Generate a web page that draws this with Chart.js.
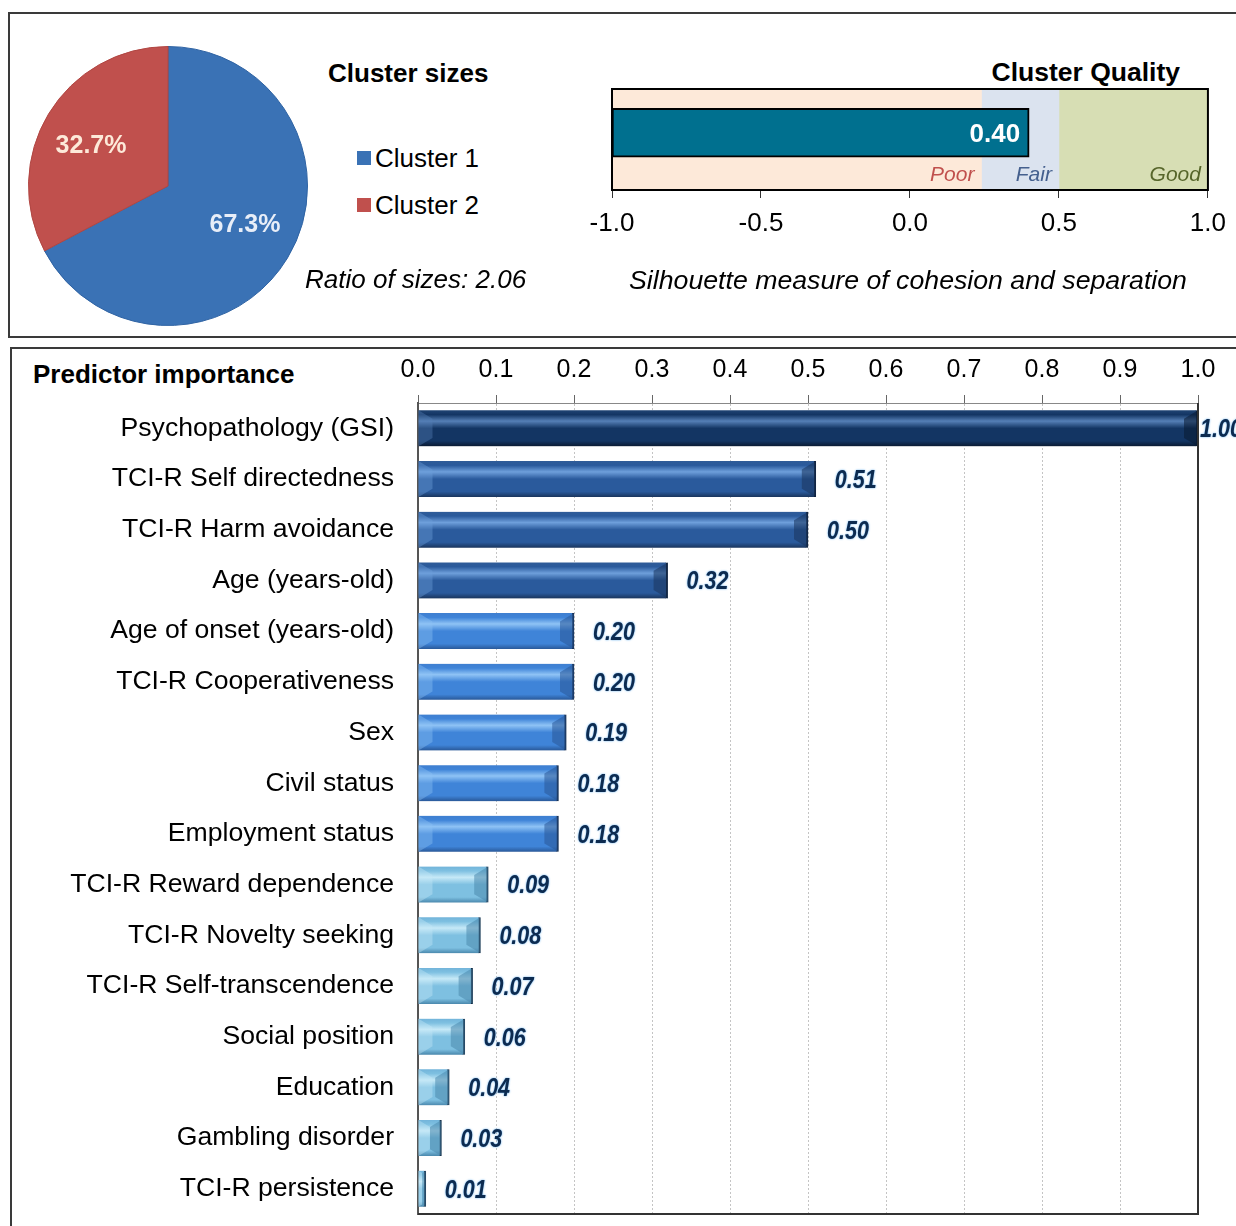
<!DOCTYPE html>
<html>
<head>
<meta charset="utf-8">
<title>Cluster model summary</title>
<script src="https://cdn.jsdelivr.net/npm/chart.js@4.4.0/dist/chart.umd.min.js"></script>
<style>
  html, body { margin: 0; padding: 0; background: #fff; width: 1236px; height: 1226px; overflow: hidden; }
  body { position: relative; font-family: Arial, "Liberation Sans", sans-serif; }
  .box { position: absolute; border: 2px solid #3a3a3a; box-sizing: border-box; }
  #boxTop { left: 8px; top: 12px; width: 1250px; height: 326px; }
  #boxBottom { left: 10px; top: 347px; width: 1250px; height: 920px; }
  .txt { position: absolute; white-space: nowrap; color: #000; font-size: 26px; line-height: 26px; }
  .bold { font-weight: bold; }
  .ital { font-style: italic; }
  .swatch { position: absolute; width: 14px; height: 14px; }
  canvas { position: absolute; }
</style>
</head>
<body>
<div class="box" id="boxTop"></div>
<div class="box" id="boxBottom"></div>

<canvas id="pieChart" width="284" height="284" style="left:26px; top:44px;"></canvas>
<div class="txt bold" style="left:328px; top:60px;">Cluster sizes</div>
<div id="pieLegend"></div>
<div class="txt ital" id="ratioText" style="left:305px; top:266px;"></div>

<div class="txt bold" style="right:56px; top:59px; font-size:26.5px;">Cluster Quality</div>
<canvas id="qualityChart" width="676" height="170" style="left:560px; top:80px;"></canvas>
<div class="txt ital" style="left:908px; top:267px; font-size:26.7px; transform:translateX(-50%);">Silhouette measure of cohesion and separation</div>

<div class="txt bold" style="left:33px; top:361px;">Predictor importance</div>
<canvas id="importanceChart" width="1226" height="907" style="left:10px; top:347px;"></canvas>

<script>
// Cluster sizes (percent of cases)
const clusterNames = ['Cluster 1', 'Cluster 2'];
const clusterShares = [67.3, 32.7];

// Cluster quality
const silhouette = 0.40;
const bandNames = ['Poor', 'Fair', 'Good'];
const bandEdges = [-1.0, 0.24, 0.5, 1.0];

// Predictor importance
const predictors = [
    'Psychopathology (GSI)', 'TCI-R Self directedness', 'TCI-R Harm avoidance', 'Age (years-old)',
    'Age of onset (years-old)', 'TCI-R Cooperativeness', 'Sex', 'Civil status', 'Employment status',
    'TCI-R Reward dependence', 'TCI-R Novelty seeking', 'TCI-R Self-transcendence', 'Social position',
    'Education', 'Gambling disorder', 'TCI-R persistence'
];
const importance = [1.00, 0.51, 0.50, 0.32, 0.20, 0.20, 0.19, 0.18, 0.18, 0.09, 0.08, 0.07, 0.06, 0.04, 0.03, 0.01];

const FONT = 'Arial, "Liberation Sans", sans-serif';
Chart.defaults.font.family = FONT;
Chart.defaults.color = '#000';
Chart.defaults.animation = false;

// ---------- Cluster sizes pie ----------
const pieColors = ['#3a72b5', '#c0504d'];
const pieEdge = ['#2f63a3', '#b04642'];
const pieTextColors = ['#e8eef8', '#fde9d9'];

const legendBox = document.getElementById('pieLegend');
clusterNames.forEach((name, i) => {
    const top = 145 + i * 47;
    const sw = document.createElement('div');
    sw.className = 'swatch';
    sw.style.left = '357px';
    sw.style.top = (top + 6) + 'px';
    sw.style.background = pieColors[i];
    legendBox.appendChild(sw);
    const t = document.createElement('div');
    t.className = 'txt';
    t.style.left = '375px';
    t.style.top = top + 'px';
    t.textContent = name;
    legendBox.appendChild(t);
});
document.getElementById('ratioText').textContent =
    'Ratio of sizes: ' + (Math.max(...clusterShares) / Math.min(...clusterShares)).toFixed(2);

const pieLabels = {
    id: 'pieLabels',
    afterDatasetsDraw(chart) {
        const ctx = chart.ctx;
        ctx.save();
        ctx.font = 'bold 25px ' + FONT;
        ctx.textAlign = 'center';
        ctx.textBaseline = 'middle';
        chart.getDatasetMeta(0).data.forEach((arc, i) => {
            // label sits a little nearer the horizontal than the slice middle
            const mid = (arc.startAngle + arc.endAngle) / 2 - 0.07;
            const r = arc.outerRadius * 0.62;
            ctx.fillStyle = pieTextColors[i];
            ctx.fillText(clusterShares[i].toFixed(1) + '%', arc.x + Math.cos(mid) * r, arc.y + Math.sin(mid) * r);
        });
        ctx.restore();
    }
};

new Chart(document.getElementById('pieChart'), {
    type: 'pie',
    data: {
        labels: clusterNames,
        datasets: [{
            data: clusterShares,
            backgroundColor: pieColors,
            borderColor: pieEdge,
            borderWidth: 1
        }]
    },
    options: {
        responsive: false,
        layout: { padding: 2 },
        plugins: { legend: { display: false }, tooltip: { enabled: false } }
    },
    plugins: [pieLabels]
});

// ---------- Cluster quality ----------
const bandColors = ['#fde9d9', '#dbe3ef', '#d7deb4'];
const bandTextColors = ['#c0504d', '#45608e', '#56652a'];

const qualityDeco = {
    id: 'qualityDeco',
    afterDatasetsDraw(chart) {
        const ctx = chart.ctx;
        const area = chart.chartArea;
        ctx.save();
        // frame around plot
        ctx.strokeStyle = '#000';
        ctx.lineWidth = 2;
        ctx.strokeRect(area.left, area.top, area.right - area.left, area.bottom - area.top);
        // value inside the bar
        const bar = chart.getDatasetMeta(0).data[0];
        ctx.fillStyle = '#fff';
        ctx.font = 'bold 26px ' + FONT;
        ctx.textAlign = 'right';
        ctx.textBaseline = 'middle';
        ctx.fillText(silhouette.toFixed(2), Math.max(bar.x, bar.base) - 9, bar.y + 2);
        // band names
        ctx.font = 'italic 21px ' + FONT;
        bandNames.forEach((name, i) => {
            const band = chart.getDatasetMeta(i + 1).data[0];
            ctx.fillStyle = bandTextColors[i];
            ctx.fillText(name, Math.max(band.x, band.base) - 7, area.bottom - 15);
        });
        ctx.restore();
    }
};

// bands fill the full height; the silhouette bar sits in the upper part
const bandSets = bandNames.map((name, i) => ({
    label: name,
    data: [{ x: [bandEdges[i], bandEdges[i + 1]], y: 0.5 }],
    backgroundColor: bandColors[i],
    borderWidth: 0,
    barThickness: 101,
    grouped: false
}));

new Chart(document.getElementById('qualityChart'), {
    type: 'bar',
    data: {
        datasets: [{
            label: 'Silhouette',
            data: [{ x: [-1, silhouette], y: 0.6 }],
            backgroundColor: '#00708f',
            borderColor: '#000',
            borderWidth: 2,
            borderSkipped: false,
            barThickness: 49,
            grouped: false
        }].concat(bandSets)
    },
    options: {
        responsive: false,
        indexAxis: 'y',
        layout: { padding: { left: 52, top: 9, right: 28, bottom: 0 } },
        scales: {
            x: {
                type: 'linear',
                min: -1,
                max: 1,
                ticks: { stepSize: 0.5, callback: v => v.toFixed(1), font: { size: 26 }, color: '#000', padding: 10, maxRotation: 0 },
                grid: { drawOnChartArea: false, drawTicks: true, tickLength: 8, tickColor: '#333', color: '#333' },
                border: { display: true, color: '#000', width: 2 },
                afterFit: s => { s.height = 60; }
            },
            y: { type: 'linear', min: 0, max: 1, display: false }
        },
        plugins: { legend: { display: false }, tooltip: { enabled: false } }
    },
    plugins: [qualityDeco]
});

// ---------- Predictor importance ----------
const tones = [
    ['#1f4373', '#557fb6', '#133563', '#0a1a32'],
    ['#2f5b97', '#6e9fdb', '#2a5a9c', '#1a355d'],
    ['#3f7fd0', '#8fc3f5', '#3f84d8', '#295898'],
    ['#72b4da', '#c6e9f7', '#7ec0e1', '#4a88ad']
];

function toneFor(v) {
    if (v >= 0.9) return tones[0];
    if (v >= 0.3) return tones[1];
    if (v >= 0.15) return tones[2];
    return tones[3];
}

function barFill(c) {
    const t = toneFor(c.raw);
    const y = c.chart.scales.y;
    if (!y || c.type !== 'data') return t[2];
    const yc = y.getPixelForValue(c.dataIndex);
    if (!isFinite(yc)) return t[2];
    const g = c.chart.ctx.createLinearGradient(0, yc - 18, 0, yc + 18);
    g.addColorStop(0, t[0]);
    g.addColorStop(0.12, t[2]);
    g.addColorStop(0.3, t[1]);
    g.addColorStop(0.5, t[2]);
    g.addColorStop(0.85, t[2]);
    g.addColorStop(1, t[3]);
    return g;
}

const importanceDeco = {
    id: 'importanceDeco',
    afterDatasetsDraw(chart) {
        const ctx = chart.ctx;
        const area = chart.chartArea;
        ctx.save();
        // bevelled bar ends
        chart.getDatasetMeta(0).data.forEach((bar, i) => {
            const h = bar.height / 2;
            const left = Math.min(bar.x, bar.base);
            const right = Math.max(bar.x, bar.base);
            const d = Math.min(14, (right - left) / 2);
            const t = toneFor(importance[i]);
            ctx.fillStyle = t[3];
            ctx.globalAlpha = 0.55;
            ctx.beginPath();
            ctx.moveTo(right, bar.y - h);
            ctx.lineTo(right - d, bar.y - h + d * 0.6);
            ctx.lineTo(right - d, bar.y + h - d * 0.6);
            ctx.lineTo(right, bar.y + h);
            ctx.closePath();
            ctx.fill();
            ctx.fillStyle = t[1];
            ctx.globalAlpha = 0.4;
            ctx.beginPath();
            ctx.moveTo(left, bar.y - h);
            ctx.lineTo(left + d, bar.y - h + d * 0.6);
            ctx.lineTo(left + d, bar.y + h - d * 0.6);
            ctx.lineTo(left, bar.y + h);
            ctx.closePath();
            ctx.fill();
            ctx.globalAlpha = 1;
        });
        // right and bottom frame
        ctx.strokeStyle = '#333';
        ctx.lineWidth = 2;
        ctx.beginPath();
        ctx.moveTo(area.right, area.top);
        ctx.lineTo(area.right, area.bottom);
        ctx.lineTo(area.left, area.bottom);
        ctx.stroke();
        // value labels (slightly condensed bold italic)
        ctx.font = 'italic bold 25px ' + FONT;
        ctx.textAlign = 'left';
        ctx.textBaseline = 'middle';
        ctx.fillStyle = '#0d2b50';
        ctx.shadowColor = 'rgba(70,160,235,0.9)';
        ctx.shadowBlur = 2;
        chart.getDatasetMeta(0).data.forEach((bar, i) => {
            const right = Math.max(bar.x, bar.base);
            const x = Math.min(right + 19, area.right + 2);
            ctx.save();
            ctx.translate(x, bar.y + 2);
            ctx.scale(0.86, 1);
            ctx.fillText(importance[i].toFixed(2), 0, 0);
            ctx.restore();
        });
        ctx.restore();
    }
};

new Chart(document.getElementById('importanceChart'), {
    type: 'bar',
    data: {
        labels: predictors,
        datasets: [{
            label: 'Predictor importance',
            data: importance,
            backgroundColor: barFill,
            borderColor: '#0b1a30',
            borderWidth: { right: 2, left: 0, top: 0, bottom: 0 },
            borderSkipped: false,
            barThickness: 36
        }]
    },
    options: {
        responsive: false,
        indexAxis: 'y',
        layout: { padding: { left: 0, top: 0, right: 38, bottom: 13 } },
        scales: {
            x: {
                position: 'top',
                min: 0,
                max: 1,
                ticks: { stepSize: 0.1, callback: v => v.toFixed(1), font: { size: 25 }, color: '#000', padding: 10, maxRotation: 0 },
                grid: { color: '#c4c4c4', lineWidth: 1, drawTicks: true, tickLength: 8, tickColor: '#666', tickBorderDash: [] },
                border: { display: true, color: '#888', width: 1, dash: [2, 2] },
                afterFit: s => { s.height = 56; }
            },
            y: {
                ticks: { font: { size: 26.6 }, color: '#000', padding: 24 },
                grid: { display: false, drawTicks: false },
                border: { display: true, color: '#555', width: 2 },
                afterFit: s => { s.width = 408; }
            }
        },
        plugins: { legend: { display: false }, tooltip: { enabled: false } }
    },
    plugins: [importanceDeco]
});
</script>
</body>
</html>
